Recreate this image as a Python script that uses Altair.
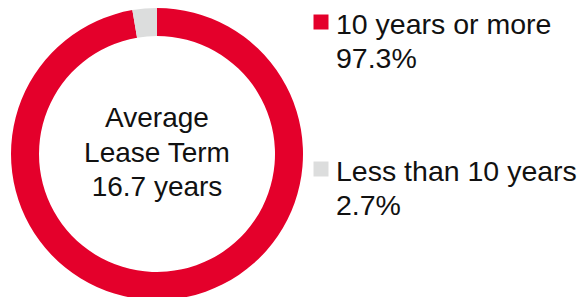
import altair as alt
import pandas as pd

categories = ["10 years or more", "Less than 10 years"]
shares = [97.3, 2.7]
share_labels = ["97.3%", "2.7%"]
colors = ["#E4002B", "#DCDDDD"]
center_lines = ["Average", "Lease Term", "16.7 years"]

df = pd.DataFrame({
    "category": categories,
    "share": shares,
    "label": share_labels,
    "order": [0, 1],
})

color_scale = alt.Scale(domain=categories, range=colors)

arc = alt.Chart(df).mark_arc(outerRadius=146, innerRadius=118, stroke=None).encode(
    theta=alt.Theta("share:Q", stack=True),
    order=alt.Order("order:Q"),
    color=alt.Color("category:N", scale=color_scale, legend=None),
    x=alt.value(149),
    y=alt.value(146),
)

center = alt.Chart(df).transform_filter("datum.order == 0").mark_text(
    align="center", baseline="alphabetic", fontSize=28, lineHeight=34.5,
    font="Liberation Sans", color="#111111",
).encode(
    x=alt.value(149),
    y=alt.value(119),
    text=alt.value(center_lines),
)

ypos = alt.Y("category:N",
             scale=alt.Scale(type="point", domain=categories, range=[14, 161], padding=0),
             axis=None)

squares = alt.Chart(df).mark_square(size=225, opacity=1).encode(
    x=alt.value(313),
    y=ypos,
    color=alt.Color("category:N", scale=color_scale, legend=None),
)

names = alt.Chart(df).mark_text(
    align="left", baseline="alphabetic", fontSize=28.5, dy=12,
    font="Liberation Sans", color="#111111",
).encode(
    x=alt.value(328),
    y=ypos,
    text="category:N",
)

pcts = alt.Chart(df).mark_text(
    align="left", baseline="alphabetic", fontSize=28.5, dy=46,
    font="Liberation Sans", color="#111111",
).encode(
    x=alt.value(328),
    y=ypos,
    text="label:N",
)

chart = alt.layer(arc, center, squares, names, pcts).properties(
    width=569, height=281, padding=0
).configure_view(stroke=None)

chart.save("out.html", embed_options={"renderer": "svg", "actions": False})
